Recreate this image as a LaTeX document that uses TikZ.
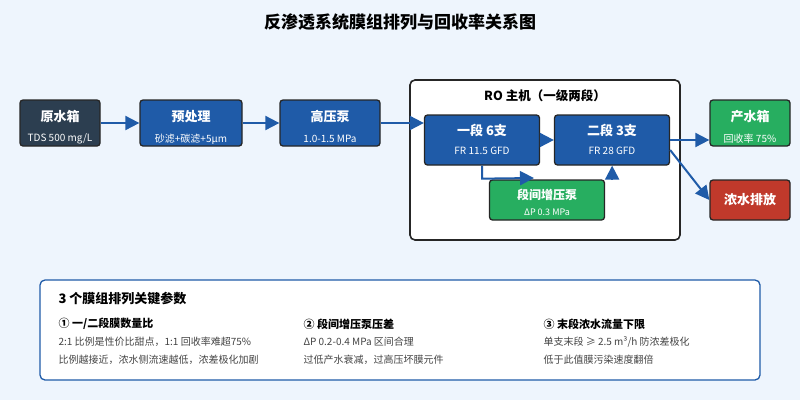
\documentclass[tikz,border=0pt]{standalone}
\usepackage{fontspec}
\setmainfont{Noto Sans CJK SC}
\usetikzlibrary{positioning, calc, arrows.meta}
\definecolor{bgc}{HTML}{EEF5FD}
\definecolor{navy}{HTML}{2C3E50}
\definecolor{rblue}{HTML}{1F5BA8}
\definecolor{rgreen}{HTML}{27AE60}
\definecolor{rred}{HTML}{C0392B}
\definecolor{txtg}{HTML}{444444}
\tikzset{
Flow/.style = {draw=rblue, line width=2pt, -{Triangle[length=14pt,width=14pt]}}
}

\begin{document}
\begin{tikzpicture}[x=1pt, y=-1pt,
			unit/.style = {rectangle, rounded corners=3pt, draw=black!85, line width=1.3pt, text=white, align=center, inner sep=0pt},
			head/.style = {font=\bfseries\fontsize{13}{15}\selectfont},
			sub/.style = {font=\fontsize{10}{12}\selectfont},
			note/.style = {anchor=west, font=\fontsize{10}{12}\selectfont, text=txtg},
			notehead/.style = {anchor=west, font=\bfseries\fontsize{11}{13}\selectfont},
		]
		\fill[bgc] (0,0) rectangle (800,400);
		\useasboundingbox (0,0) rectangle (800,400);

		\node[font=\bfseries\fontsize{17}{19}\selectfont] (title) at (400,22) {反渗透系统膜组排列与回收率关系图};

		% main line
		\node[unit, fill=navy, minimum width=80, minimum height=46] (raw) at (60,123) {};
		\node[unit, fill=rblue, minimum width=102, minimum height=46] (pre) at (191,123) {};
		\node[unit, fill=rblue, minimum width=100, minimum height=46] (hp) at (330,123) {};
		\node[head, text=white] at (60,117) {原水箱};
		\node[sub, text=white] at (60,139) {TDS 500 mg/L};
		\node[head, text=white] at (191,117) {预处理};
		\node[sub, text=white] at (191,139) {砂滤+碳滤+5μm};
		\node[head, text=white] at (330,117) {高压泵};
		\node[sub, text=white] at (330,139) {1.0-1.5 MPa};

		% RO frame
		\node[rectangle, rounded corners=5pt, draw=black!85, fill=white, line width=1.6pt, minimum width=270, minimum height=160] (ro) at (545,160) {};
		\node[font=\bfseries\fontsize{12.5}{14}\selectfont] (rotitle) at (545,96) {RO 主机（一级两段）};
		\node[unit, fill=rblue, minimum width=115, minimum height=50] (s1) at (482,140) {};
		\node[unit, fill=rblue, minimum width=115, minimum height=50] (s2) at (612,140) {};
		\node[unit, fill=rgreen, minimum width=115, minimum height=40] (bp) at (547,200) {};
		\node[head, text=white] at (482,130) {一段 6支};
		\node[sub, text=white] at (482,151) {FR 11.5 GFD};
		\node[head, text=white] at (612,130) {二段 3支};
		\node[sub, text=white] at (612,151) {FR 28 GFD};
		\node[head, text=white, font=\bfseries\fontsize{12}{14}\selectfont] at (547,195) {段间增压泵};
		\node[sub, text=white, font=\fontsize{9}{10}\selectfont] at (547,212) {ΔP 0.3 MPa};

		\node[unit, fill=rgreen, minimum width=80, minimum height=46] (prod) at (750,123) {};
		\node[head, text=white] at (750,117) {产水箱};
		\node[sub, text=white] at (750,139) {回收率 75\%};
		\node[unit, fill=rred, minimum width=80, minimum height=40, head] (conc) at (750,200) {浓水排放};

		\draw[Flow] (raw) -- (pre);
		\draw[Flow] (pre) -- (hp);
		\draw[Flow] (hp.east) -- (s1.west |- hp.east);
		\draw[Flow] (s1) -- (s2);
		\draw[Flow] (s1.south) -- ++(0,13) -- (534,178);
		\draw[Flow] (bp.north east) ++(7,0) coordinate (bpup) -- (bpup |- s2.south);
		\draw[Flow] (s2.east |- prod) ++(0,17) coordinate (s2out) -- (s2out -| prod.west);
		\draw[Flow] (s2.east) ++(0,10) coordinate (s2c) -- (conc.west);

		% notes panel
		\node[rectangle, rounded corners=5pt, draw=rblue, fill=white, line width=1.3pt, minimum width=720, minimum height=100] (panel) at (400,330) {};
		\node[anchor=west, font=\bfseries\fontsize{13}{15}\selectfont] (ptitle) at (55,299) {3 个膜组排列关键参数};
		\node[notehead] (h1) at (55,324) {① 一/二段膜数量比};
		\node[note] (a1) at (55,342) {2:1 比例是性价比甜点，1:1 回收率难超75\%};
		\node[note] (b1) at (55,360) {比例越接近，浓水侧流速越低，浓差极化加剧};
		\node[notehead] (h2) at (300,324) {② 段间增压泵压差};
		\node[note] (a2) at (300,342) {ΔP 0.2-0.4 MPa 区间合理};
		\node[note] (b2) at (300,360) {过低产水衰减，过高压坏膜元件};
		\node[notehead] (h3) at (540,324) {③ 末段浓水流量下限};
		\node[note] (a3) at (540,342) {单支末段 ≥ 2.5 m³/h 防浓差极化};
		\node[note] (b3) at (540,360) {低于此值膜污染速度翻倍};
	\end{tikzpicture}
\end{document}
